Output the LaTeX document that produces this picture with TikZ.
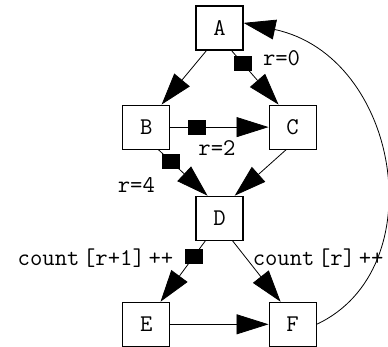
\documentclass[tikz,border=0pt]{standalone}
\usepackage{fontspec}
\usetikzlibrary{arrows.meta, calc, positioning, decorations.markings}
\newcommand{\graphfont}{\fontsize{24}{28}\selectfont\ttfamily\fontdimen2\font=0.15em}
\tikzstyle{vertex} = [rectangle, line width=1.1pt, minimum width=47pt, minimum height=44pt, inner sep=0pt, text centered, draw=black, font=\graphfont]
\tikzstyle{elabel} = [inner sep=0pt, font=\graphfont]
\tikzstyle{arrow} = [line width=0.8pt, -{Triangle[length=32pt, width=20pt]}]
\tikzset{tailbox/.style={postaction={decorate}, decoration={markings, mark=at position #1 with {\pgftransformresetnontranslations \fill (-9pt,-7.5pt) rectangle (9pt,7.5pt);}}}, tailbox/.default=17pt}

\begin{document}
\begin{tikzpicture}
		\useasboundingbox (0,0) rectangle (388pt,-346pt);
		\node (A) [vertex] at (219.5pt,-28pt) {A};
		\node (B) [vertex, below left = 54pt and 25pt of A] {B};
		\node (C) [vertex, below right = 54pt and 25pt of A] {C};
		\node (D) [vertex, below right = 46pt and 25pt of B] {D};
		\node (E) [vertex, below left = 61pt and 25pt of D] {E};
		\node (F) [vertex, below right = 61pt and 25pt of D] {F};
		% edge labels
		\node (Rzero) [elabel] at ([shift={(38pt,-8pt)}]A.south east) {r=0};
		\node (Rtwo) [elabel] at ([shift={(46.5pt,2pt)}]B.south east) {r=2};
		\node (Rfour) [elabel] at ([shift={(-10pt,-35.5pt)}]B.south) {r=4};
		\node (CountNext) [elabel, anchor=east] at ([shift={(-22pt,-17pt)}]D.south west) {count [r+1] ++};
		\node (CountCur) [elabel, anchor=west] at ([shift={(9pt,-17pt)}]D.south east) {count [r] ++};
		\draw [arrow] (A.240) -- (B.56);
		\draw [arrow, tailbox] (A.298) -- (C.122);
		\draw [arrow, tailbox=27pt] (B.east) -- (C.west);
		\draw [arrow, tailbox] (B.298) -- (D.118);
		\draw [arrow] (C.254) -- (D.56);
		\draw [arrow, tailbox=19pt] (D.238) -- (E.58);
		\draw [arrow] (D.300) -- (F.118);
		\draw [arrow] (E.east) -- (F.west);
		\draw [arrow] (F.east) to[out=25, in=-12, out distance=130pt, in distance=160pt] (A.12);
\end{tikzpicture}
\end{document}
